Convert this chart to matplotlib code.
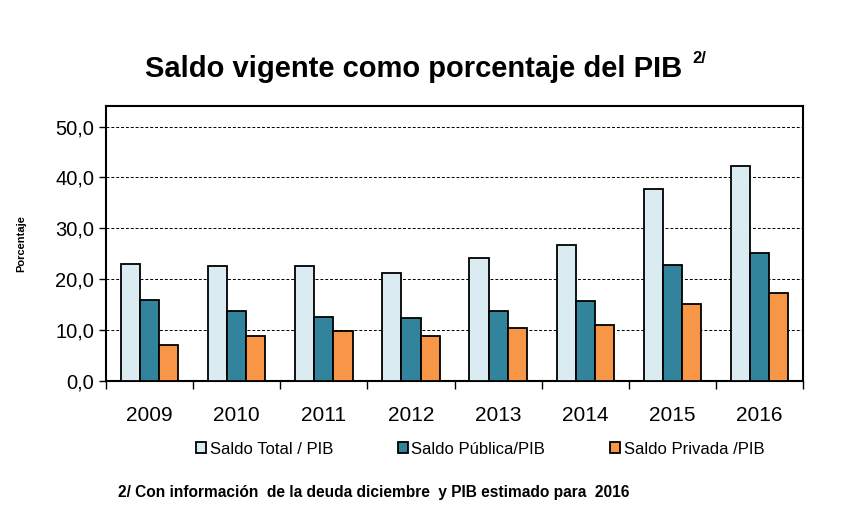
import matplotlib.pyplot as plt
import numpy as np

plt.rcParams['font.family'] = ['Liberation Sans', 'DejaVu Sans']

years = ['2009', '2010', '2011', '2012', '2013', '2014', '2015', '2016']
saldo_total = [22.9, 22.5, 22.5, 21.2, 24.2, 26.7, 37.8, 42.3]
saldo_publica = [15.9, 13.7, 12.5, 12.4, 13.7, 15.8, 22.7, 25.2]
saldo_privada = [7.1, 8.8, 9.9, 8.8, 10.5, 11.0, 15.2, 17.3]
labels = ['Saldo Total / PIB', 'Saldo Pública/PIB', 'Saldo Privada /PIB']
colors = ['#DBEBF2', '#31849B', '#F79646']

fig = plt.figure(figsize=(8.41, 5.08), dpi=100)
ax = fig.add_axes([0.126, 0.25, 0.829, 0.541])

x = np.arange(len(years))
w = 0.22
for i, (vals, lab, col) in enumerate(zip([saldo_total, saldo_publica, saldo_privada], labels, colors)):
    ax.bar(x + (i - 1) * w, vals, w, color=col, edgecolor='black', linewidth=1.3,
           label=lab, zorder=3)

ax.set_xlim(-0.5, len(years) - 0.5)
ax.set_ylim(0, 54)
ax.set_yticks(np.arange(0, 51, 10))
ax.set_yticklabels([f'{v:.1f}'.replace('.', ',') for v in np.arange(0, 51, 10)], fontsize=14.5)
ax.yaxis.grid(True, color='black', linestyle=(0, (3, 2)), linewidth=0.7, zorder=0)

# ticks at category boundaries, labels centred
ax.set_xticks(np.arange(-0.5, len(years), 1))
ax.set_xticklabels([])
ax.set_xticks(x, minor=True)
ax.set_xticklabels(years, minor=True, fontsize=15)
ax.tick_params(axis='x', which='minor', length=0, pad=18)
ax.tick_params(axis='x', which='major', length=6, width=1, direction='out')
ax.tick_params(axis='y', length=5, width=1, direction='out')
for s in ax.spines.values():
    s.set_linewidth(1.5)

ax.set_ylabel('Porcentaje', fontsize=8, fontweight='bold', labelpad=21)

fig.text(0.492, 0.865, 'Saldo vigente como porcentaje del PIB', ha='center', va='center',
         fontsize=21, fontweight='bold')
fig.text(0.823, 0.885, '2/', ha='left', va='center', fontsize=12, fontweight='bold')

fig.legend(loc='center', bbox_to_anchor=(0.571, 0.116), ncol=3, frameon=False,
           fontsize=12, handlelength=0.6, handleheight=0.6, handletextpad=0.2,
           columnspacing=3.9)

fig.text(0.14, 0.03, '2/ Con información  de la deuda diciembre  y PIB estimado para  2016',
         fontsize=11.2, fontweight='bold', ha='left', va='center')

fig.savefig('out.png', dpi=100)
